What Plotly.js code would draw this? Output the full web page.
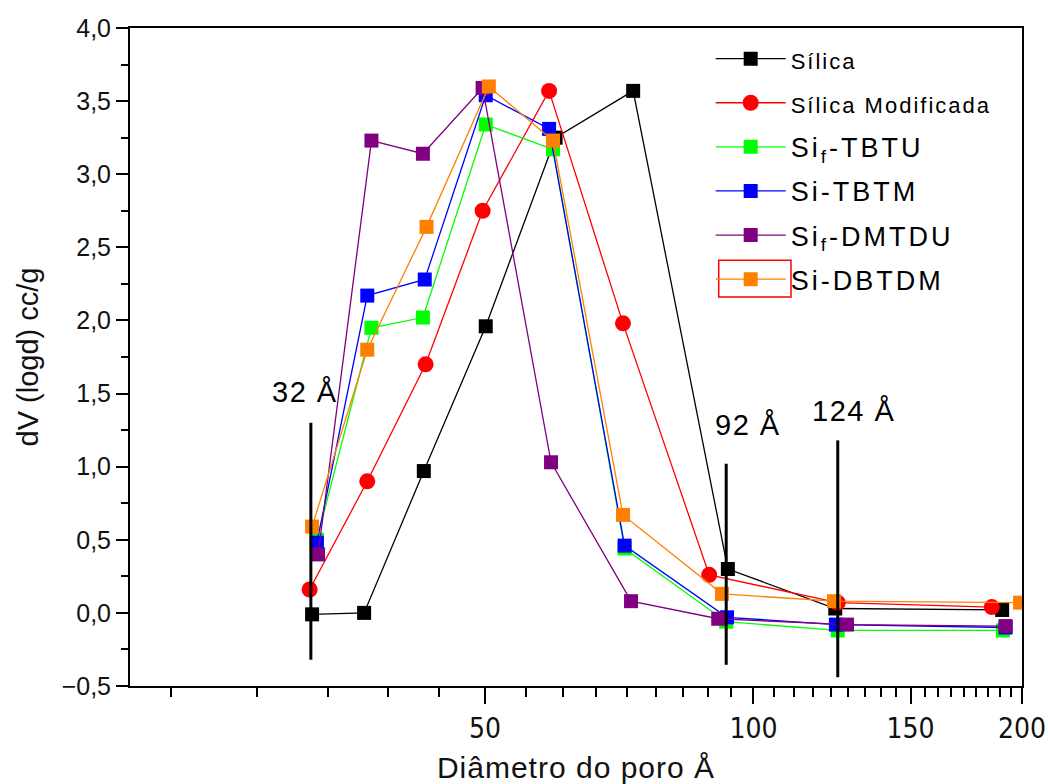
<!DOCTYPE html>
<html>
<head>
<meta charset="utf-8">
<script src="https://cdn.plot.ly/plotly-3.0.1.min.js"></script>
<style>html,body{margin:0;padding:0;background:#fff;}#chart{width:1048px;height:784px;}</style>
</head>
<body>
<div id="chart"></div>
<script>
// ---- data ----
const seriesNames = ["Sílica", "Sílica Modificada", "Si<sub>f</sub>-TBTU", "Si-TBTM", "Si<sub>f</sub>-DMTDU", "Si-DBTDM"];

const silicaX = [32.0, 36.6, 42.7, 50.1, 60.0, 73.3, 93.6, 123.5, 190.0];
const silicaY = [-0.01, 0.00, 0.97, 1.96, 3.25, 3.57, 0.30, 0.03, 0.02];

const modificadaX = [31.8, 36.9, 42.9, 49.7, 59.0, 71.4, 89.2, 124.3, 185.0];
const modificadaY = [0.16, 0.90, 1.70, 2.75, 3.57, 1.98, 0.26, 0.07, 0.04];

const tbtuX = [32.4, 37.3, 42.6, 50.1, 59.6, 71.7, 93.2, 124.3, 190.4];
const tbtuY = [0.50, 1.95, 2.02, 3.34, 3.17, 0.44, -0.06, -0.12, -0.12];

const tbtmX = [32.4, 36.9, 42.8, 50.1, 59.0, 71.7, 93.4, 123.7, 191.7];
const tbtmY = [0.48, 2.17, 2.28, 3.54, 3.31, 0.46, -0.03, -0.08, -0.10];

const dmtduX = [32.5, 37.3, 42.6, 49.7, 59.3, 72.9, 91.3, 127.3, 191.7];
const dmtduY = [0.40, 3.23, 3.14, 3.59, 1.03, 0.08, -0.04, -0.08, -0.09];

const dbtdmX = [32.0, 36.9, 43.0, 50.5, 59.6, 71.4, 92.2, 123.1, 199.0];
const dbtdmY = [0.59, 1.80, 2.64, 3.60, 3.23, 0.67, 0.13, 0.08, 0.07];

// vertical bars at the labelled pore diameters
const poreLabels = ["32 Å", "92 Å", "124 Å"];
const poreLineX = [31.9, 93.2, 124.3];
const poreLineTop = [1.30, 1.02, 1.18];
const poreLineBottom = [-0.32, -0.355, -0.44];
const poreLabelX = [31.4, 98.6, 129.3];
const poreLabelY = [1.51, 1.285, 1.38];

const xMajorTicks = [50, 100, 150, 200];
const xTickText = ["50", "100", "150", "200"];

// ---- styling ----
const colors = ["#000000", "#ff0000", "#00ff00", "#0000ff", "#800080", "#ff8000"];
const symbols = ["square", "circle", "square", "square", "square", "square"];
const sizes = [14, 16, 14, 14, 14, 14];
const xs = [silicaX, modificadaX, tbtuX, tbtmX, dmtduX, dbtdmX];
const ys = [silicaY, modificadaY, tbtuY, tbtmY, dmtduY, dbtdmY];

const traces = [];
for (let i = 0; i < seriesNames.length; i++) {
  const nm = i < 2
    ? '<span style="font-size:22px;letter-spacing:2px">' + seriesNames[i] + '</span>'
    : '<span style="letter-spacing:3px">' + seriesNames[i] + '</span>';
  traces.push({
    type: 'scatter', mode: 'lines+markers',
    x: xs[i], y: ys[i], name: nm, legendgroup: 'g' + i,
    line: {color: colors[i], width: 1.3},
    marker: {color: colors[i], symbol: symbols[i], size: sizes[i], line: {width: 0}},
    hoverinfo: 'x+y'
  });
}
for (let k = 0; k < poreLineX.length; k++) {
  traces.push({
    type: 'scatter', mode: 'lines', showlegend: false, hoverinfo: 'skip',
    x: [poreLineX[k], poreLineX[k]], y: [poreLineTop[k], poreLineBottom[k]],
    line: {color: '#000000', width: 3}
  });
}

// minor ticks every 50/9 between 20 and 200 (Origin-style)
const minorVals = [];
for (let k = 4; k < 36; k++) { if (k % 9 !== 0) minorVals.push(50 * k / 9); }

const annotations = poreLabels.map((t, k) => ({
  text: '<span style="letter-spacing:1.5px">' + t + '</span>',
  x: Math.log10(poreLabelX[k]), y: poreLabelY[k], xref: 'x', yref: 'y',
  showarrow: false, xanchor: 'center', yanchor: 'middle',
  font: {family: 'Liberation Sans, Arial, sans-serif', size: 29, color: '#000'}
}));

const layout = {
  width: 1048, height: 784,
  margin: {l: 130, r: 26, t: 28, b: 98, pad: 0},
  paper_bgcolor: '#ffffff', plot_bgcolor: '#ffffff',
  separators: ',.',
  showlegend: true,
  font: {family: 'Liberation Sans, Arial, sans-serif', color: '#000'},
  xaxis: {
    type: 'log', range: [Math.log10(20), Math.log10(200)],
    tickmode: 'array', tickvals: xMajorTicks, ticktext: xTickText,
    ticks: 'outside', ticklen: 16, tickwidth: 2, tickcolor: '#000',
    minor: {tickmode: 'array', tickvals: minorVals, ticks: 'outside', ticklen: 9, tickwidth: 2, tickcolor: '#000', showgrid: false},
    showline: true, linewidth: 2, linecolor: '#000', mirror: true,
    showgrid: false, zeroline: false,
    tickfont: {family: 'Liberation Sans Narrow, Arial Narrow, DejaVu Sans Condensed, sans-serif', size: 28, color: '#111'},
    title: {text: '<span style="letter-spacing:1px">Diâmetro do poro Å</span>', font: {family: 'Liberation Sans, Arial, sans-serif', size: 30, color: '#111'}, standoff: 24}
  },
  yaxis: {
    range: [-0.5, 4.0], tickmode: 'linear', tick0: 0, dtick: 0.5, tickformat: '.1f',
    ticks: 'outside', ticklen: 12, tickwidth: 2, tickcolor: '#000',
    minor: {tick0: 0.25, dtick: 0.5, ticks: 'outside', ticklen: 7, tickwidth: 2, tickcolor: '#000', showgrid: false},
    showline: true, linewidth: 2, linecolor: '#000', mirror: true,
    showgrid: false, zeroline: false,
    tickfont: {family: 'Liberation Sans, Arial, sans-serif', size: 25, color: '#111'},
    title: {text: 'dV (logd) cc/g', font: {family: 'Liberation Sans, Arial, sans-serif', size: 29, color: '#111'}, standoff: 14}
  },
  legend: {
    x: 0.651, y: 0.99, xanchor: 'left', yanchor: 'top',
    bgcolor: 'rgba(0,0,0,0)', borderwidth: 0,
    itemwidth: 70, tracegroupgap: 6, traceorder: 'grouped',
    font: {family: 'Liberation Sans, Arial, sans-serif', size: 27, color: '#000'}
  },
  shapes: [{
    type: 'rect', xref: 'paper', yref: 'paper',
    x0: 0.660, x1: 0.741, y0: 0.591, y1: 0.647,
    line: {color: '#ff0000', width: 1.5}, fillcolor: 'rgba(0,0,0,0)'
  }],
  annotations: annotations
};

Plotly.newPlot('chart', traces, layout, {displayModeBar: false, staticPlot: true});
</script>
</body>
</html>
